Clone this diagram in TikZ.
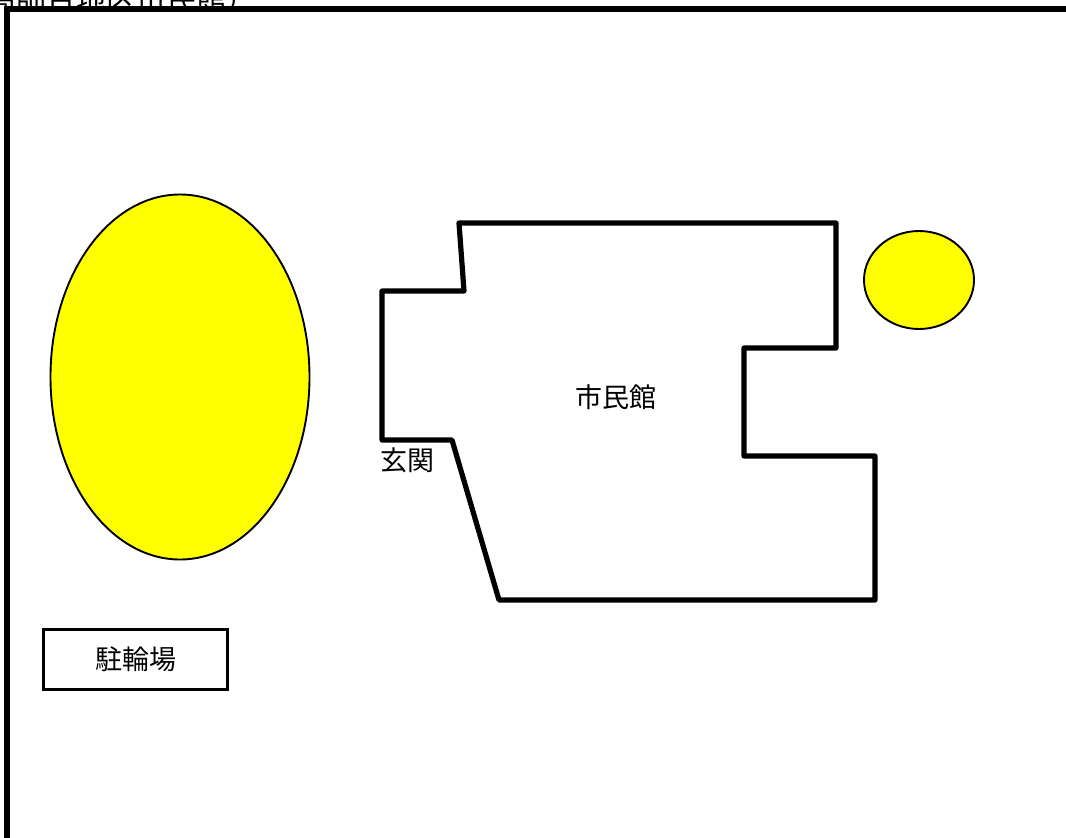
\documentclass[tikz,border=0pt]{standalone}
\usepackage{fontspec}
\newfontfamily\cjk{Noto Sans CJK JP}
\definecolor{pondyellow}{RGB}{255,255,0}
\tikzset{
  wall/.style={draw=black,line width=5.2pt,line join=round,line cap=round},
  pond/.style={draw=black,line width=1.9pt,fill=pondyellow},
  lbl/.style={font=\cjk\fontsize{27}{27}\selectfont,inner sep=0pt,text=black},
}
\begin{document}
\begin{tikzpicture}[x=1pt,y=-1pt]
\useasboundingbox (0,0) rectangle (1066,838);
\clip (0,0) rectangle (1066,838);
\node[font=\cjk\fontsize{30}{30}\selectfont,inner sep=0pt,anchor=base west] (title) at (-14,10) {高師台地区市民館）};
\fill[white] (0,6) rectangle (1066,838);
\draw[line width=6pt,line cap=butt,line join=miter] (7,838) -- (7,8.5) -- (1066,8.5);
\draw[pond] (180,377) ellipse [x radius=129.5,y radius=182.5];
\draw[pond] (919,280) ellipse [x radius=55,y radius=49];
\draw[wall] (459,223) -- (836,223) -- (836,348) -- (744,348) -- (744,456) -- (875,456) -- (875,600) -- (499,600) -- (452,440) -- (382,440) -- (382,291) -- (464,291) -- cycle;
\node[lbl] (hall) at (615.5,397) {市民館};
\node[lbl] (entry) at (407,460) {玄関};
\node[draw=black,line width=3.2pt,minimum width=184pt,minimum height=60pt,inner sep=0pt,font=\cjk\fontsize{27}{27}\selectfont] (bike) at (135.5,659.5) {\hspace{1pt}駐輪場};
\end{tikzpicture}
\end{document}
